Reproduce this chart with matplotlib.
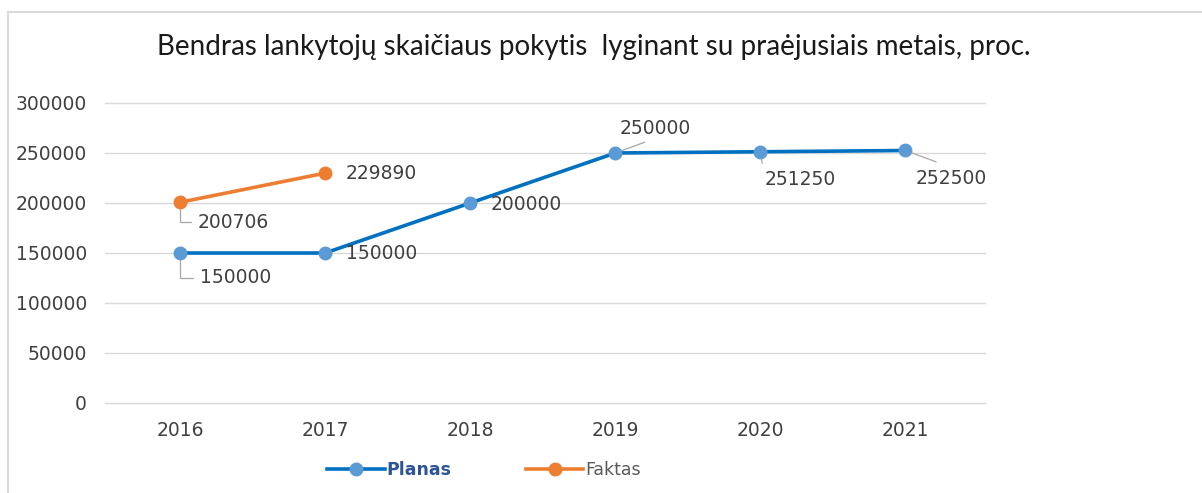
import matplotlib
matplotlib.use("Agg")
import matplotlib.pyplot as plt
from matplotlib.lines import Line2D

plt.rcParams["font.family"] = ["DejaVu Sans"]

years = ["2016", "2017", "2018", "2019", "2020", "2021"]
planas = [150000, 150000, 200000, 250000, 251250, 252500]
faktas = [200706, 229890]
yticks = [0, 50000, 100000, 150000, 200000, 250000, 300000]
title = "Bendras lankytojų skaičiaus pokytis  lyginant su praėjusiais metais, proc."

W, H = 1202, 493
fig = plt.figure(figsize=(W / 100, H / 100), dpi=100)
fig.patch.set_facecolor("white")

# chart border (left and top)
fig.add_artist(Line2D([8 / W, 8 / W], [0, 1 - 12 / H], transform=fig.transFigure, color="#D9D9D9", lw=1.5))
fig.add_artist(Line2D([8 / W, 1], [1 - 12 / H, 1 - 12 / H], transform=fig.transFigure, color="#D9D9D9", lw=1.5))

ax = fig.add_axes([105 / W, 1 - 403 / H, 880 / W, 300 / H])
x = list(range(len(years)))
ax.set_xlim(-0.517, 5.548)
ax.set_ylim(0, 300000)
ax.set_yticks(yticks)
ax.set_yticklabels([str(v) for v in yticks])
ax.set_xticks(x)
ax.set_xticklabels(years)
for s in ax.spines.values():
    s.set_visible(False)
ax.grid(axis="y", color="#D9D9D9", lw=1)
for gl in ax.get_ygridlines():
    gl.set_clip_on(False)
ax.set_axisbelow(True)
ax.tick_params(length=0, labelsize=13.5, labelcolor="#404040")
ax.tick_params(axis="y", pad=13)
ax.tick_params(axis="x", pad=13)

blue_line, blue_mk = "#0070C0", "#5B9BD5"
orange = "#ED7D31"
ax.plot(x, planas, color=blue_line, lw=2.6, marker="o", ms=9,
        markerfacecolor=blue_mk, markeredgecolor=blue_mk, zorder=3)
ax.plot(x[:len(faktas)], faktas, color=orange, lw=2.6, marker="o", ms=9,
        markerfacecolor=orange, markeredgecolor=orange, zorder=3)

lead = "#A6A6A6"
lblcol = "#404040"

def label(xi, yi, dx, dy, conn=None, relpos=(0, 0.5), shrinkA=3):
    kw = dict(textcoords="offset pixels", ha="left", va="center",
              fontsize=13.5, color=lblcol, zorder=4)
    if conn is not None:
        kw["arrowprops"] = dict(arrowstyle="-", color=lead, lw=0.9,
                                connectionstyle=conn, relpos=relpos,
                                shrinkA=shrinkA, shrinkB=5)
    ax.annotate(str(yi), xy=(xi, yi), xytext=(dx, dy), **kw)

# Planas labels
label(x[0], planas[0], 20, -25, "angle,angleA=0,angleB=90,rad=0", (0, 0.5))
label(x[1], planas[1], 21, -1)
label(x[2], planas[2], 20, -2)
label(x[3], planas[3], 4, 24, "arc3", (0.5, 0.0), shrinkA=2)
label(x[4], planas[4], 4, -28, "arc3", (0.0, 0.6))
label(x[5], planas[5], 10, -28, "arc3", (0.56, 1.0), shrinkA=9)
# Faktas labels
label(x[0], faktas[0], 18, -20, "angle,angleA=0,angleB=90,rad=0", (0, 0.5))
label(x[1], faktas[1], 21, 0)

fig.text(594 / W, 1 - 47 / H, title, ha="center", va="center",
         fontsize=20, family="Lato", color="#1a1a1a")

handles = [
    Line2D([], [], color=blue_line, lw=2.6, marker="o", ms=9,
           markerfacecolor=blue_mk, markeredgecolor=blue_mk),
    Line2D([], [], color=orange, lw=2.6, marker="o", ms=9,
           markerfacecolor=orange, markeredgecolor=orange),
]
leg = fig.legend(handles, ["Planas", "Faktas"], loc="center",
                 bbox_to_anchor=(484 / W, 1 - 470 / H), ncol=2, frameon=False,
                 fontsize=12.5, handlelength=3.3, handletextpad=0.1,
                 columnspacing=4.3)
t1, t2 = leg.get_texts()
t1.set_color("#2F5597")
t1.set_fontweight("bold")
t2.set_color("#595959")

fig.savefig("out.png", dpi=100)
